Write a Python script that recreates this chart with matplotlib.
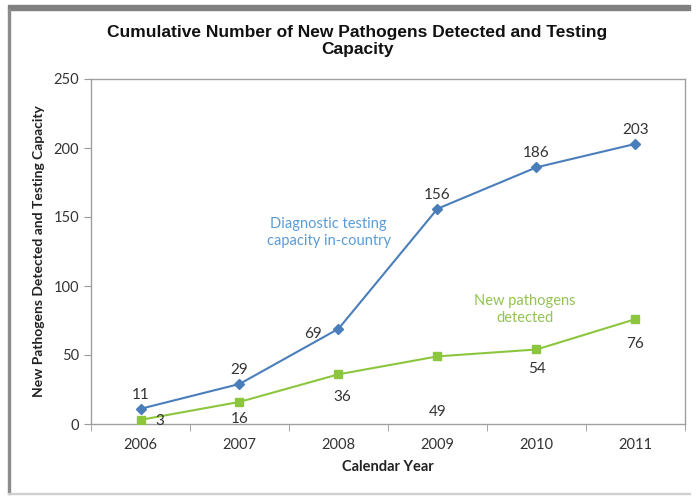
import matplotlib.pyplot as plt
from matplotlib.patches import Rectangle

years = ["2006", "2007", "2008", "2009", "2010", "2011"]
capacity = [11, 29, 69, 156, 186, 203]
pathogens = [3, 16, 36, 49, 54, 76]

# label offsets (points)
cap_offsets = [(0, 10), (0, 10), (-18, -4), (0, 10), (0, 10), (0, 10)]
path_offsets = [(14, -1), (0, -12), (3, -16), (0, -40), (0, -14), (0, -18)]

BLUE = "#4a7ebb"
GREEN = "#8cc63f"
FONT = ["Lato", "DejaVu Sans"]

plt.rcParams["font.family"] = FONT

fig = plt.figure(figsize=(6.97, 4.96), dpi=100)
ax = fig.add_axes([91 / 697, 72 / 496, 594 / 697, 345 / 496])

x = list(range(len(years)))
ax.plot(x, capacity, color=BLUE, lw=1.5, marker="D", ms=5, zorder=3)
ax.plot(x, pathogens, color=GREEN, lw=1.5, marker="s", ms=6, zorder=3)

for i, v in enumerate(capacity):
    ax.annotate(str(v), (i, v), xytext=cap_offsets[i], textcoords="offset points",
                ha="center", va="center", fontsize=11, color="#333333")
for i, v in enumerate(pathogens):
    ax.annotate(str(v), (i, v), xytext=path_offsets[i], textcoords="offset points",
                ha="center", va="center", fontsize=11, color="#333333")

ax.text(1.9, 139, "Diagnostic testing\ncapacity in-country", color="#5b9bd5",
        fontsize=10.5, ha="center", va="center", linespacing=1.3)
ax.text(3.88, 83, "New pathogens\ndetected", color="#92c353",
        fontsize=10.5, ha="center", va="center", linespacing=1.3)

ax.set_xlim(-0.5, 5.5)
ax.set_ylim(0, 250)
ax.set_yticks(range(0, 251, 50))
ax.set_xticks(x)
ax.set_xticklabels(years)
ax.set_xticks([i - 0.5 for i in range(7)], minor=True)
ax.tick_params(axis="x", which="major", length=0, pad=10, labelsize=10.5, labelcolor="#333333")
ax.tick_params(axis="x", which="minor", length=5, color="#999999", direction="out")
ax.tick_params(axis="y", length=5, color="#999999", labelsize=10.5, labelcolor="#333333")
for s in ax.spines.values():
    s.set_color("#a0a0a0")
    s.set_linewidth(1.0)

ax.set_xlabel("Calendar Year", fontsize=10.5, fontweight="bold", color="#222222", labelpad=6)
ax.set_ylabel("New Pathogens Detected and Testing Capacity", fontsize=10,
              fontweight="bold", color="#222222", labelpad=6)

fig.text(357 / 697, 1 - 41 / 496,
         "Cumulative Number of New Pathogens Detected and Testing\nCapacity",
         family=["Liberation Sans", "DejaVu Sans"], fontsize=12.5, fontweight="bold",
         ha="center", va="center", linespacing=1.15, color="#111111")

# outer frame of the screenshot
fig.patches.append(Rectangle((8 / 697, 1 - 10 / 496), 682 / 697, 5 / 496,
                             transform=fig.transFigure, color="#808080", zorder=0))
fig.patches.append(Rectangle((8 / 697, 2 / 496), 2 / 697, 485 / 496,
                             transform=fig.transFigure, color="#8c8c8c", zorder=0))
fig.patches.append(Rectangle((8 / 697, 2 / 496), 682 / 697, 1 / 496,
                             transform=fig.transFigure, color="#d0d0d0", zorder=0))

fig.savefig("out.png", dpi=100)
